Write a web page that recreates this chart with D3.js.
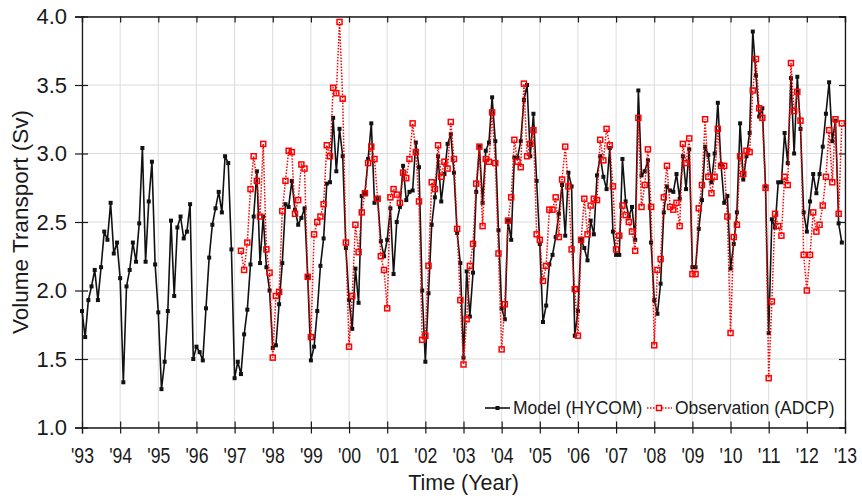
<!DOCTYPE html>
<html>
<head>
<meta charset="utf-8">
<script src="https://cdn.jsdelivr.net/npm/d3@7"></script>
<style>
  body { margin: 0; background: #fff; }
  text { font-family: "Liberation Sans", Arial, sans-serif; fill: #1a1a1a; }
</style>
</head>
<body>
<svg id="chart" width="862" height="501"></svg>
<script>
// Monthly model transport (Sv), Jan 1993 .. Dec 2012, one row per year
const modelStart = 1993;
const modelTransport = [
  1.85, 1.66, 1.93, 2.03, 2.15, 1.93, 2.17, 2.43, 2.37, 2.64, 2.27, 2.35, // 1993
  2.09, 1.33, 2.03, 2.15, 2.35, 2.21, 2.49, 3.04, 2.21, 2.65, 2.94, 2.19, // 1994
  1.84, 1.28, 1.48, 1.85, 2.51, 1.96, 2.46, 2.54, 2.38, 2.43, 2.63, 1.50, // 1995
  1.59, 1.55, 1.49, 1.87, 2.24, 2.48, 2.60, 2.72, 2.57, 2.98, 2.93, 2.30, // 1996
  1.36, 1.48, 1.39, 1.68, 1.86, 2.19, 2.54, 2.87, 2.20, 2.54, 2.17, 2.00, // 1997
  1.58, 1.60, 1.90, 2.20, 2.63, 2.61, 2.80, 2.59, 2.48, 2.53, 2.60, 2.10, // 1998
  1.49, 1.59, 1.85, 2.18, 2.38, 2.78, 2.79, 3.26, 2.87, 3.18, 2.98, 2.31, // 1999
  1.93, 1.72, 2.16, 1.91, 2.69, 2.71, 2.96, 3.22, 2.64, 2.67, 2.36, 2.25, // 2000
  2.37, 2.60, 2.12, 2.50, 2.61, 2.91, 2.66, 2.72, 2.73, 3.08, 2.90, 2.00, // 2001
  1.48, 1.98, 2.48, 2.68, 2.98, 2.65, 2.85, 3.07, 3.14, 2.86, 2.42, 2.20, // 2002
  1.51, 2.14, 1.81, 2.13, 2.72, 3.05, 2.64, 3.02, 3.08, 3.41, 3.09, 2.44, // 2003
  1.87, 1.79, 2.51, 2.37, 2.97, 2.97, 3.09, 3.39, 3.50, 2.98, 3.29, 2.80, // 2004
  2.34, 1.77, 1.89, 2.19, 2.26, 2.39, 2.56, 2.77, 2.40, 2.86, 2.76, 1.67, // 2005
  1.85, 2.37, 2.31, 2.22, 2.51, 2.41, 2.84, 2.98, 2.83, 2.74, 3.04, 2.43, // 2006
  2.26, 2.26, 2.96, 2.65, 2.54, 2.61, 2.37, 3.46, 2.84, 2.87, 2.95, 2.35, // 2007
  1.93, 1.83, 2.05, 2.57, 2.76, 2.73, 2.72, 2.85, 2.67, 2.98, 2.74, 3.03, // 2008
  2.17, 2.17, 2.45, 2.66, 3.05, 2.99, 2.79, 3.00, 3.37, 2.92, 2.64, 2.69, // 2009
  2.16, 2.34, 2.57, 3.22, 2.81, 2.98, 3.15, 3.89, 3.57, 3.27, 3.33, 2.76, // 2010
  1.69, 2.52, 2.46, 2.79, 2.79, 3.15, 2.93, 3.55, 3.00, 3.56, 3.18, 2.57, // 2011
  2.43, 2.65, 2.85, 2.71, 2.85, 3.05, 3.29, 3.52, 3.09, 3.24, 2.49, 2.35  // 2012
];

// Monthly ADCP observations (Sv), Mar 1997 .. Dec 2012
const obsStart = 1997 + 2 / 12;
const obsTransport = [
  2.29, 2.15, 2.35, 2.74, 2.98, 2.80, 2.54, 3.07, 2.30, 2.13,             // 1997 (Mar-Dec)
  1.51, 1.96, 1.99, 2.58, 2.80, 3.02, 3.01, 2.56, 2.66, 2.92, 2.89, 2.10, // 1998
  1.66, 2.41, 2.50, 2.54, 2.63, 3.06, 2.98, 3.48, 3.44, 3.96, 3.40, 2.35, // 1999
  1.59, 1.96, 2.48, 2.28, 2.57, 2.71, 2.93, 3.05, 2.96, 2.67, 2.25, 2.15, // 2000
  1.87, 2.68, 2.74, 2.70, 2.64, 2.86, 2.82, 2.96, 3.22, 3.01, 2.65, 1.64, // 2001
  1.67, 2.18, 2.79, 2.74, 3.06, 2.83, 2.94, 2.89, 3.23, 2.96, 2.45, 1.93, // 2002
  1.46, 1.79, 2.18, 2.34, 2.78, 3.05, 2.47, 2.96, 2.94, 3.30, 2.93, 2.27, // 2003
  1.57, 1.90, 2.51, 2.68, 3.10, 2.94, 2.90, 3.51, 2.98, 3.07, 3.17, 2.41, // 2004
  2.37, 2.07, 2.18, 2.59, 2.59, 2.68, 2.39, 2.81, 3.05, 2.76, 2.30, 2.01, // 2005
  1.67, 2.37, 2.67, 2.41, 2.62, 2.67, 2.66, 3.10, 2.95, 3.18, 3.06, 2.76, // 2006
  2.30, 2.40, 2.62, 2.55, 2.50, 2.43, 2.29, 3.26, 2.61, 2.77, 3.03, 2.61, // 2007
  1.60, 2.15, 2.23, 2.68, 2.91, 2.61, 2.59, 2.64, 2.47, 3.07, 2.93, 3.11, // 2008
  2.12, 2.12, 2.60, 2.77, 3.25, 2.83, 2.71, 2.83, 3.18, 2.91, 2.91, 2.54, // 2009
  1.69, 2.39, 2.48, 2.98, 2.85, 3.02, 3.01, 3.46, 3.69, 3.33, 3.26, 2.75, // 2010
  1.36, 1.92, 2.56, 2.47, 2.40, 2.83, 2.77, 3.66, 3.31, 3.45, 3.24, 2.26, // 2011
  2.00, 2.26, 2.57, 2.43, 2.48, 2.62, 2.83, 3.17, 2.79, 3.25, 2.56, 3.22  // 2012
];

const yearTicks = d3.range(1993, 2014);
const valueTicks = [1.0, 1.5, 2.0, 2.5, 3.0, 3.5, 4.0];

// Layout
const svg = d3.select("#chart");
const margin = { top: 16.5, right: 17, bottom: 73.5, left: 82 };
const width = 862 - margin.left - margin.right;
const height = 501 - margin.top - margin.bottom;
const g = svg.append("g").attr("transform", `translate(${margin.left},${margin.top})`);

const x = d3.scaleLinear().domain([1993, 2013]).range([0, width]);
const y = d3.scaleLinear().domain([1.0, 4.0]).range([height, 0]);

const model = modelTransport.map((v, i) => ({ t: modelStart + i / 12, v }));
const obs = obsTransport.map((v, i) => ({ t: obsStart + i / 12, v }));

// Grid
g.append("g").selectAll("line").data(yearTicks).join("line")
  .attr("x1", d => x(d)).attr("x2", d => x(d))
  .attr("y1", 0).attr("y2", height)
  .attr("stroke", "#dcdcdc").attr("stroke-width", 1);
g.append("g").selectAll("line").data(valueTicks).join("line")
  .attr("x1", 0).attr("x2", width)
  .attr("y1", d => y(d)).attr("y2", d => y(d))
  .attr("stroke", "#dcdcdc").attr("stroke-width", 1);

// Axes
const fmtYear = d => "'" + String(d).slice(2);
const xAxis = g.append("g").attr("transform", `translate(0,${height})`)
  .call(d3.axisBottom(x).tickValues(yearTicks).tickFormat(fmtYear).tickSize(6).tickPadding(14));
xAxis.selectAll(".tick line").attr("y1", -6);
xAxis.selectAll(".tick text")
  .attr("font-size", 22)
  .attr("textLength", 23).attr("lengthAdjust", "spacingAndGlyphs");

const yAxis = g.append("g")
  .call(d3.axisLeft(y).tickValues(valueTicks).tickFormat(d3.format(".1f")).tickSize(7).tickPadding(8));
yAxis.selectAll(".tick line").attr("x1", 6);
yAxis.selectAll(".tick text").attr("font-size", 22);

g.append("g")
  .call(d3.axisTop(x).tickValues(yearTicks).tickFormat("").tickSize(-6));
g.append("g").attr("transform", `translate(${width},0)`)
  .call(d3.axisRight(y).tickValues(valueTicks).tickFormat("").tickSize(-6));

svg.selectAll(".domain").attr("stroke", "#1a1a1a").attr("stroke-width", 1.3);
svg.selectAll(".tick line").attr("stroke", "#1a1a1a").attr("stroke-width", 1.2);
svg.selectAll(".tick text").attr("fill", "#1a1a1a");

// Axis titles
svg.append("text")
  .attr("x", margin.left + width / 2).attr("y", 490)
  .attr("text-anchor", "middle").attr("font-size", 21.5)
  .text("Time (Year)");
svg.append("text")
  .attr("transform", `translate(28,${margin.top + height / 2}) rotate(-90)`)
  .attr("text-anchor", "middle").attr("font-size", 22.5)
  .text("Volume Transport (Sv)");

// Model line
const line = d3.line().x(d => x(d.t)).y(d => y(d.v));
g.append("path").datum(model)
  .attr("fill", "none").attr("stroke", "#111").attr("stroke-width", 1.6)
  .attr("stroke-linejoin", "round")
  .attr("d", line);
g.append("g").selectAll("rect").data(model).join("rect")
  .attr("x", d => x(d.t) - 2).attr("y", d => y(d.v) - 2)
  .attr("width", 4).attr("height", 4)
  .attr("fill", "#111");

// Observation line
g.append("path").datum(obs)
  .attr("fill", "none").attr("stroke", "#ff0000").attr("stroke-width", 1.5)
  .attr("stroke-dasharray", "1.5,1.5")
  .attr("d", line);
g.append("g").selectAll("rect").data(obs).join("rect")
  .attr("x", d => x(d.t) - 2.5).attr("y", d => y(d.v) - 2.5)
  .attr("width", 5).attr("height", 5)
  .attr("fill", "none").attr("stroke", "#ff0000").attr("stroke-width", 1.5);

// Legend
const lg = svg.append("g");
const ly = 408;
lg.append("line").attr("x1", 485).attr("x2", 510).attr("y1", ly).attr("y2", ly)
  .attr("stroke", "#111").attr("stroke-width", 1.6);
lg.append("rect").attr("x", 495.5).attr("y", ly - 2).attr("width", 4).attr("height", 4).attr("fill", "#111");
lg.append("text").attr("x", 513).attr("y", ly).attr("dy", "0.36em")
  .attr("font-size", 17.5).text("Model (HYCOM)");
lg.append("line").attr("x1", 647).attr("x2", 672).attr("y1", ly).attr("y2", ly)
  .attr("stroke", "#ff0000").attr("stroke-width", 1.5).attr("stroke-dasharray", "1.5,1.5");
lg.append("rect").attr("x", 656.5).attr("y", ly - 2.5).attr("width", 5).attr("height", 5)
  .attr("fill", "#fff").attr("stroke", "#ff0000").attr("stroke-width", 1.5);
lg.append("text").attr("x", 675).attr("y", ly).attr("dy", "0.36em")
  .attr("font-size", 17.5).text("Observation (ADCP)");
</script>
</body>
</html>
